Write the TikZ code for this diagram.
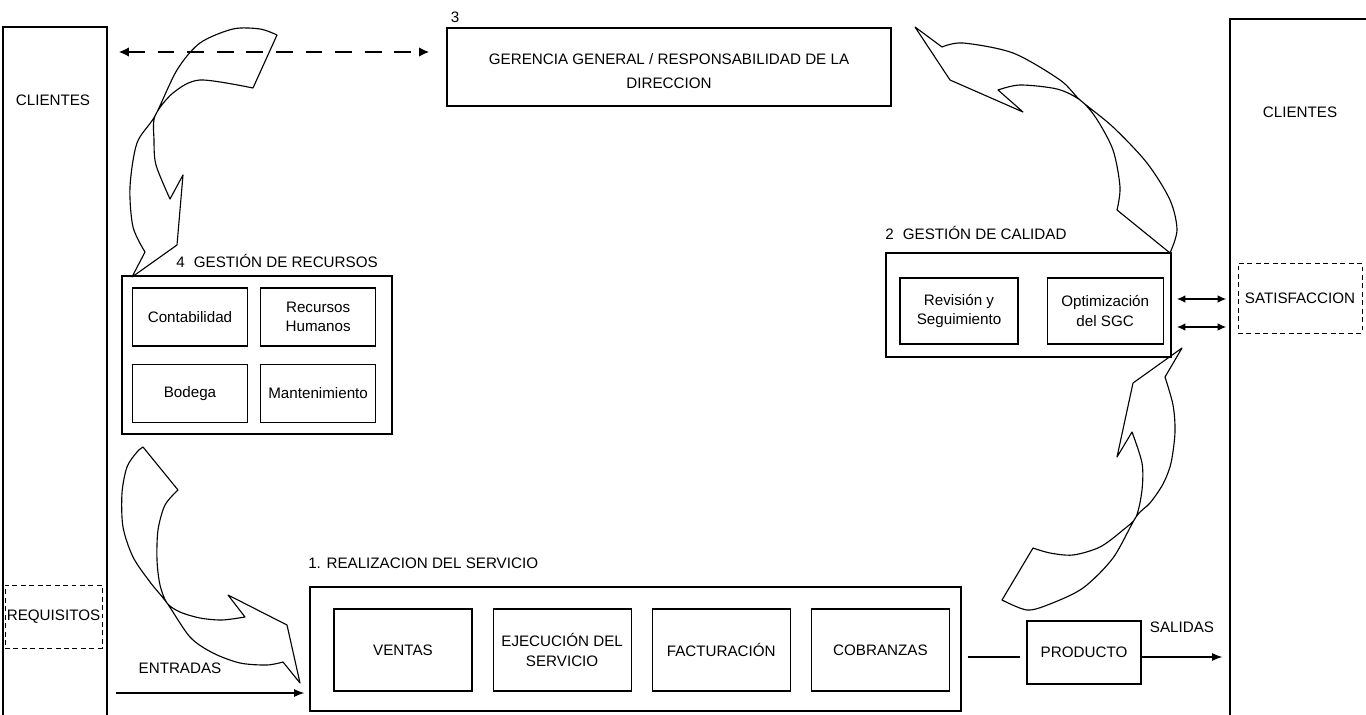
\documentclass[tikz,border=0pt]{standalone}
\usepackage{fontspec}
\setmainfont{Liberation Sans}
\usepackage{tikz}
\usetikzlibrary{arrows.meta,positioning}
\newcommand{\txtsgc}{\fontsize{10.8}{14}\selectfont}
\tikzset{
  sgc/caja/.style={draw, line width=0.8pt, align=center, font=\txtsgc, inner sep=1pt},
  sgc/sub/.style={sgc/caja, minimum width=28.75mm, minimum height=14.5mm},
  sgc/proc/.style={sgc/caja, minimum width=34.5mm, minimum height=20.5mm},
  sgc/grupo/.style={draw, line width=0.8pt},
  sgc/punteada/.style={draw, dash pattern=on 3.5pt off 2.5pt, line width=0.7pt, inner sep=1pt, font=\txtsgc},
  sgc/titulo/.style={font=\txtsgc, anchor=west, inner sep=0pt},
  sgc/rotulo/.style={font=\txtsgc, inner sep=0pt},
  sgc/bloque/.style={draw, line width=0.8pt, line join=round},
  sgc/flecha/.style={-{Latex[length=2.6mm,width=2mm]}, line width=0.9pt},
  sgc/doble/.style={{Latex[length=2.2mm,width=1.9mm]}-{Latex[length=2.2mm,width=1.9mm]}, line width=1.3pt},
  sgc/trazos/.style={{Latex[length=2.6mm,width=2.4mm]}-{Latex[length=2.6mm,width=2.4mm]}, line width=2pt, dash pattern=on 4.2mm off 3.2mm}
}

\begin{document}
\begin{tikzpicture}[x=0.25mm, y=-0.25mm]
  \useasboundingbox (0,0) rectangle (1366,715);
  \clip (0,0) rectangle (1366,715);

  \node[sgc/grupo, minimum width=26mm, minimum height=174.5mm] (clizq) at (55,376) {};
  \node[sgc/rotulo] (clizqtxt) at (53,100) {CLIENTES};
  \node[sgc/punteada, minimum width=24.25mm, minimum height=15.75mm] (requisitos) at (53.5,616.5) {REQUISITOS};

  \node[sgc/grupo, minimum width=35.5mm, minimum height=176.5mm] (clider) at (1301,372) {};
  \node[sgc/rotulo] (clidertxt) at (1300,112) {CLIENTES};
  \node[sgc/punteada, minimum width=31mm, minimum height=17.5mm] (satisf) at (1300,298) {SATISFACCION};

  \node[sgc/caja, minimum width=111mm, minimum height=19.5mm] (gerencia) at (669,67) {\rule{0pt}{14pt}GERENCIA GENERAL / RESPONSABILIDAD DE LA\\[3pt]DIRECCION};
  \node[sgc/rotulo] (gerencianum) at (455,17) {3};

  \node[sgc/grupo, minimum width=67.5mm, minimum height=39.5mm] (recursos) at (257,355) {};
  \node[sgc/titulo] (recursostit) at (176,261) {4\hspace{0.6em}GESTIÓN DE RECURSOS};
  \node[sgc/sub] (conta) at (190,317) {Contabilidad};
  \node[sgc/sub, right=3mm of conta] (rrhh) {Recursos\\Humanos};
  \node[sgc/sub, below=4.25mm of conta] (bodega) {Bodega};
  \node[sgc/sub, right=3mm of bodega] (mant) {Mantenimiento};

  \node[sgc/grupo, minimum width=71.25mm, minimum height=26mm] (calidad) at (1028.5,305) {};
  \node[sgc/titulo] (calidadtit) at (885,233) {2\hspace{0.6em}GESTIÓN DE CALIDAD};
  \node[sgc/caja, minimum width=29.5mm, minimum height=16.5mm] (revision) at (959,311) {Revisión y\\Seguimiento};
  \node[sgc/caja, minimum width=29mm, minimum height=16.5mm, right=7mm of revision] (optim) {Optimización\\del SGC};

  \node[sgc/grupo, minimum width=162.75mm, minimum height=31mm] (realiz) at (635.5,649) {};
  \node[sgc/titulo] (realiztit) at (308,563) {1. REALIZACION DEL SERVICIO};
  \node[sgc/proc] (ventas) at (403,650) {VENTAS};
  \node[sgc/proc, right=5mm of ventas] (ejec) {EJECUCIÓN DEL\\SERVICIO};
  \node[sgc/proc, right=5mm of ejec] (factura) {FACTURACIÓN};
  \node[sgc/proc, right=5mm of factura] (cobranza) {COBRANZAS};

  \node[sgc/caja, minimum width=28.5mm, minimum height=15.75mm] (producto) at (1084,652.5) {PRODUCTO};
  \node[sgc/rotulo] (salidas) at (1182,627) {SALIDAS};
  \node[sgc/rotulo] (entradas) at (180,668) {ENTRADAS};

  \draw[sgc/trazos, shorten <=2.75mm, shorten >=4.25mm] (clizq.east |- 0,52) -- (gerencia.west |- 0,52);
  \draw[sgc/doble, shorten <=1.25mm, shorten >=0.75mm] (calidad.east |- 0,299) -- (clider.west |- 0,299);
  \draw[sgc/doble, shorten <=1.25mm, shorten >=0.75mm] (calidad.east |- 0,327) -- (clider.west |- 0,327);
  \draw[sgc/flecha, shorten <=2mm, shorten >=1.25mm] (clizq.east |- 0,693) -- (realiz.west |- 0,693);
  \draw[line width=0.8pt, shorten <=1.5mm, shorten >=1.5mm] (realiz.east |- 0,657) -- (producto.west |- 0,657);
  \draw[sgc/flecha, shorten >=1.75mm] (producto.east |- 0,657) -- (clider.west |- 0,657);

  \draw[sgc/bloque] (277,35) -- (253,88)
    -- plot[smooth] coordinates {(253,88) (200,80) (173,93) (155,116) (154,140) (156,165) (170,199)}
    -- (183,175) -- (177,245) -- (132,277) -- (145,252)
    -- plot[smooth] coordinates {(145,252) (133,227) (130,187) (137,143) (155,116) (177,70) (200,43) (233,29) (260,29) (277,35)} -- cycle;
  \draw[sgc/bloque] (915,27) -- (942,47)
    -- plot[smooth] coordinates {(942,47) (963,43) (1013,53) (1060,80) (1080,100) (1113,127) (1147,163) (1170,200) (1177,230) (1170,253)}
    -- (1117,210)
    -- plot[smooth] coordinates {(1117,210) (1120,187) (1113,150) (1096,118) (1080,100) (1057,89) (1020,85) (998,90)}
    -- (1023,112) -- (950,80) -- cycle;
  \draw[sgc/bloque] (143,447) -- (178,490)
    -- plot[smooth] coordinates {(178,490) (165,505) (158,530) (157,560) (160,585) (167,603) (180,612) (200,618) (222,620) (245,617)}
    -- (228,595) -- (287,625) -- (300,683) -- (283,662)
    -- plot[smooth] coordinates {(283,662) (267,665) (240,663) (213,653) (190,637) (167,603) (150,582) (133,557) (123,527) (122,493) (127,467) (137,452) (143,447)} -- cycle;
  \draw[sgc/bloque] (1002,600) -- (1033,548)
    -- plot[smooth] coordinates {(1033,548) (1050,553) (1073,555) (1100,547) (1123,530) (1136,517) (1142,490) (1142,463) (1132,432)}
    -- (1117,457) -- (1133,383) -- (1182,348) -- (1165,377)
    -- plot[smooth] coordinates {(1165,377) (1173,405) (1175,432) (1171,463) (1163,484) (1150,503) (1136,517) (1113,558) (1083,588) (1050,604) (1027,610) (1002,600)} -- cycle;
\end{tikzpicture}
\end{document}
